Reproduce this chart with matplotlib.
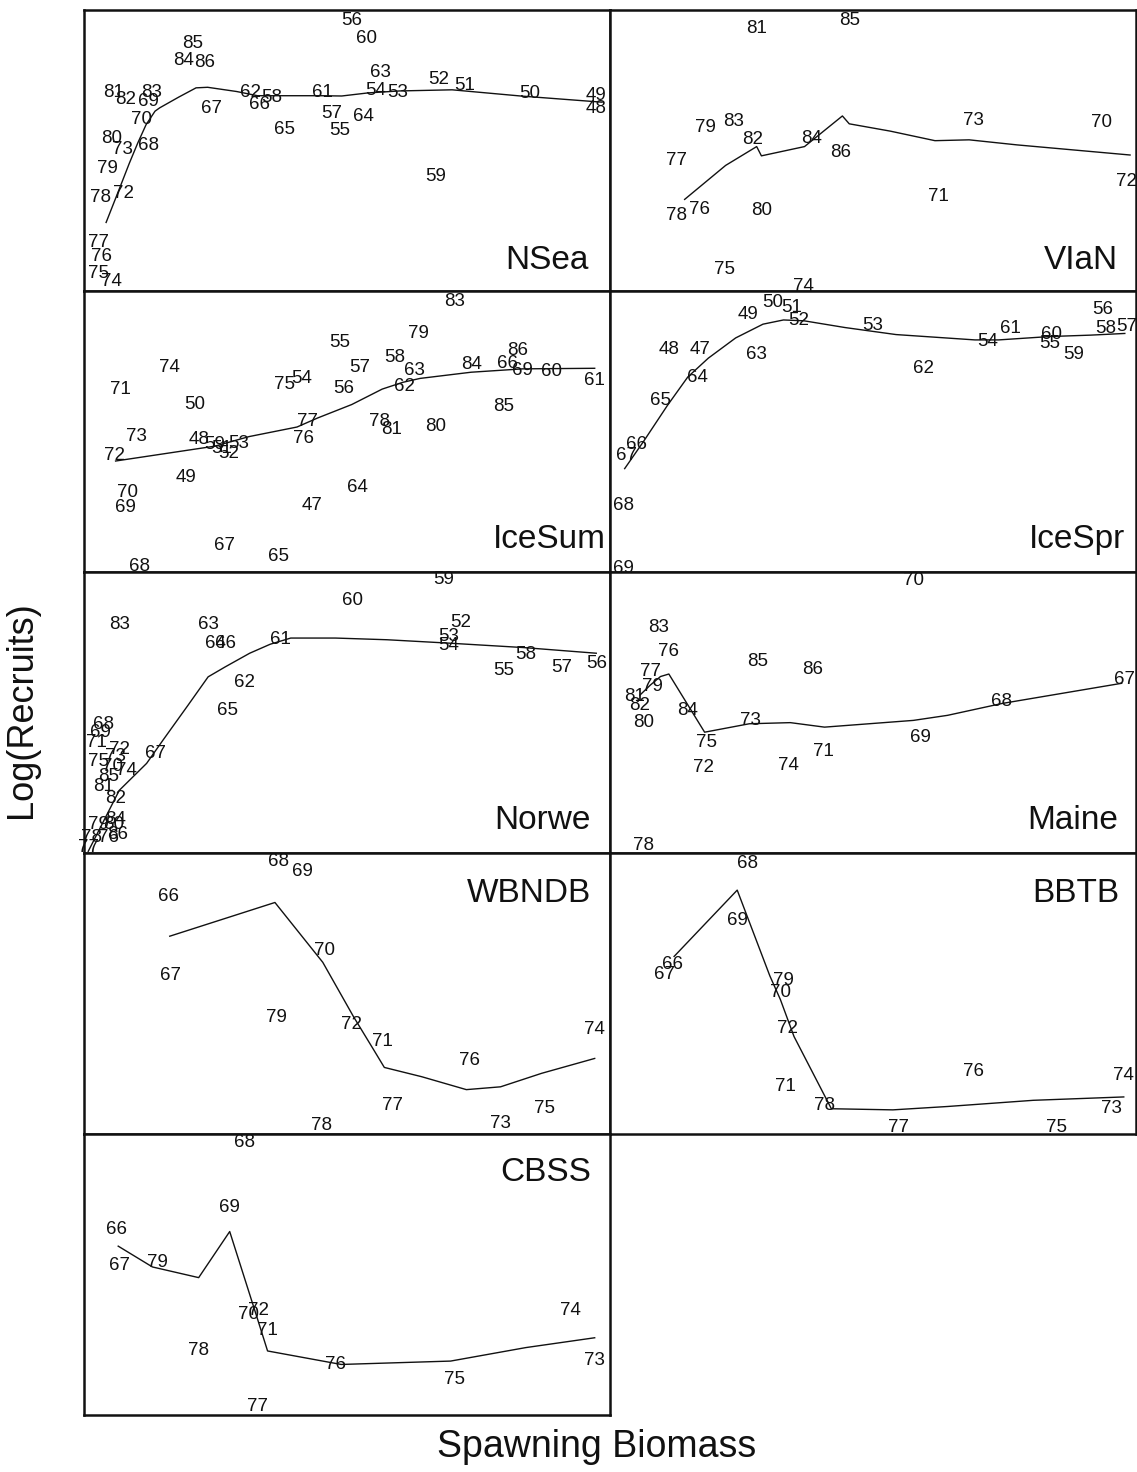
import matplotlib.pyplot as plt

plt.rcParams['font.family'] = ['Liberation Sans', 'DejaVu Sans']

# --- North Sea ---
nsea_year = [56, 60, 85, 84, 86, 81, 82, 83, 69, 70, 80, 73, 68, 79, 78, 72, 77, 76, 75, 74,
             67, 62, 58, 66, 65, 61, 57, 55, 64, 63, 54, 53, 52, 51, 50, 49, 48, 59]
nsea_ssb = [.509, .537, .206, .190, .229, .057, .079, .128, .122, .109, .053, .073, .122, .044,
            .031, .076, .027, .034, .027, .053, .242, .317, .356, .333, .382, .453, .470, .486,
            .532, .564, .555, .597, .675, .723, .847, .974, .974, .668]
nsea_rec = [.964, .900, .880, .820, .814, .706, .680, .706, .676, .610, .544, .502, .518, .436,
            .334, .346, .172, .124, .064, .034, .648, .708, .688, .664, .576, .706, .630, .570,
            .622, .778, .715, .706, .751, .732, .703, .696, .648, .406]
nsea_fit_ssb = [.042, .066, .086, .102, .118, .135, .144, .18, .213, .235, .29, .33, .45, .49,
                .54, .60, .70, .83, .985]
nsea_fit_rec = [.244, .358, .454, .526, .592, .640, .652, .69, .723, .725, .71, .695, .695, .694,
                .705, .712, .716, .694, .672]

# --- VIa North ---
vlan_year = [81, 85, 79, 83, 82, 77, 84, 86, 73, 70, 72, 71, 78, 76, 80, 75, 74]
vlan_ssb = [.279, .456, .181, .236, .272, .126, .383, .438, .692, .934, .982, .624, .126, .171,
            .289, .217, .367]
vlan_rec = [.933, .964, .583, .605, .538, .465, .544, .493, .608, .599, .389, .338, .267, .289,
            .287, .077, .016]
vlan_fit_ssb = [.142, .220, .279, .288, .370, .442, .455, .533, .618, .683, .774, .989]
vlan_fit_rec = [.326, .447, .514, .481, .514, .623, .595, .569, .535, .538, .520, .484]

# --- Iceland summer spawners ---
icesum_year = [83, 79, 55, 58, 57, 74, 71, 75, 54, 56, 63, 62, 84, 86, 66, 69, 60, 61, 85, 50,
               73, 72, 48, 59, 52, 51, 53, 77, 76, 78, 81, 80, 49, 70, 69, 64, 47, 67, 65, 68]
icesum_ssb = [.704, .636, .486, .590, .525, .163, .070, .382, .414, .493, .629, .610, .736, .824,
              .805, .834, .889, .971, .798, .210, .099, .057, .219, .249, .275, .262, .294, .424,
              .418, .561, .584, .668, .193, .083, .079, .519, .434, .268, .369, .105]
icesum_rec = [.961, .849, .817, .765, .729, .729, .651, .669, .687, .653, .717, .660, .737, .789,
              .741, .717, .713, .681, .590, .596, .482, .416, .472, .455, .422, .440, .458, .536,
              .476, .536, .508, .518, .337, .283, .229, .301, .235, .094, .054, .018]
icesum_fit_ssb = [.060, .249, .314, .405, .444, .509, .567, .606, .639, .736, .834, .971]
icesum_fit_rec = [.395, .448, .482, .516, .548, .596, .651, .675, .689, .711, .723, .725]

# --- Iceland spring spawners ---
icespr_year = [49, 50, 51, 52, 53, 48, 47, 63, 64, 65, 62, 54, 61, 60, 55, 59, 56, 58, 57, 66,
               67, 68, 69]
icespr_ssb = [.262, .310, .346, .359, .499, .112, .171, .278, .167, .096, .596, .719, .762, .840,
              .836, .882, .937, .943, .982, .051, .031, .025, .025]
icespr_rec = [.918, .960, .942, .894, .876, .791, .791, .773, .691, .610, .725, .819, .867, .845,
              .815, .773, .934, .867, .873, .453, .416, .236, .012]
icespr_fit_ssb = [.028, .064, .109, .148, .187, .239, .291, .330, .369, .447, .544, .694, .739,
                  .836, .914, .979]
icespr_fit_rec = [.368, .465, .592, .694, .761, .833, .882, .897, .894, .870, .845, .826, .826,
                  .838, .843, .849]

# --- Norwegian spring spawners ---
norwe_year = [59, 60, 83, 63, 64, 66, 61, 52, 53, 54, 55, 58, 57, 56, 62, 65, 67, 68, 69, 71,
              72, 73, 74, 75, 70, 85, 81, 82, 79, 80, 84, 76, 78, 86, 77]
norwe_ssb = [.683, .510, .067, .236, .249, .269, .373, .716, .693, .693, .798, .840, .909, .974,
             .305, .272, .135, .037, .031, .024, .067, .060, .080, .027, .054, .047, .037, .060,
             .027, .057, .060, .047, .014, .063, .008]
norwe_rec = [.972, .900, .813, .813, .747, .747, .759, .819, .771, .739, .651, .705, .659, .675,
             .608, .506, .355, .458, .428, .392, .367, .343, .295, .325, .307, .271, .235, .193,
             .102, .102, .120, .054, .054, .066, .018]
norwe_fit_ssb = [.008, .067, .119, .151, .197, .236, .269, .315, .354, .393, .478, .576, .693,
                 .837, .974]
norwe_fit_rec = [.006, .223, .319, .404, .524, .627, .663, .711, .743, .765, .765, .759, .747,
                 .731, .711]

# --- Gulf of Maine ---
maine_year = [70, 83, 76, 85, 86, 77, 79, 81, 82, 80, 84, 73, 75, 72, 74, 71, 69, 68, 67, 78]
maine_ssb = [.577, .093, .112, .281, .385, .077, .080, .047, .057, .064, .148, .268, .184, .177,
             .340, .405, .590, .745, .979, .064]
maine_rec = [.970, .802, .718, .682, .652, .645, .592, .556, .526, .466, .508, .472, .394, .304,
             .310, .360, .412, .538, .616, .028]
maine_fit_ssb = [.057, .077, .096, .112, .180, .265, .343, .408, .577, .642, .745, .973]
maine_fit_rec = [.562, .598, .628, .637, .430, .460, .464, .448, .472, .490, .532, .604]

# --- WBNDB ---
wbndb_year = [68, 69, 66, 67, 70, 79, 72, 71, 76, 74, 77, 75, 73, 78]
wbndb_ssb = [.369, .415, .161, .164, .457, .366, .509, .568, .733, .971, .587, .876, .792, .451]
wbndb_rec = [.970, .934, .844, .563, .653, .413, .389, .329, .263, .371, .102, .090, .036, .030]
wbndb_fit_ssb = [.163, .363, .454, .512, .551, .571, .642, .727, .792, .870, .971]
wbndb_fit_rec = [.704, .824, .611, .419, .299, .237, .204, .158, .168, .216, .269]

# --- BBTB ---
bbtb_year = [68, 69, 66, 67, 79, 70, 72, 71, 78, 76, 74, 73, 77, 75]
bbtb_ssb = [.262, .243, .119, .103, .330, .324, .337, .334, .408, .691, .977, .954, .548, .850]
bbtb_rec = [.964, .760, .605, .569, .545, .503, .377, .168, .102, .222, .210, .090, .024, .024]
bbtb_fit_ssb = [.122, .242, .304, .324, .350, .421, .538, .642, .805, .977]
bbtb_fit_rec = [.632, .868, .563, .479, .347, .090, .086, .098, .120, .132]

# --- CBSS ---
cbss_year = [68, 69, 66, 67, 79, 72, 70, 71, 78, 76, 75, 74, 73, 77]
cbss_ssb = [.306, .277, .062, .068, .140, .332, .313, .349, .218, .479, .704, .925, .971, .329]
cbss_rec = [.970, .737, .662, .531, .543, .371, .359, .302, .228, .180, .126, .371, .194, .030]
cbss_fit_ssb = [.065, .130, .218, .277, .329, .349, .489, .697, .840, .971]
cbss_fit_rec = [.601, .527, .489, .653, .347, .228, .180, .192, .240, .275]

stocks = [
    ('NSea', nsea_year, nsea_ssb, nsea_rec, nsea_fit_ssb, nsea_fit_rec, (0.960, 0.11)),
    ('VIaN', vlan_year, vlan_ssb, vlan_rec, vlan_fit_ssb, vlan_fit_rec, (0.966, 0.11)),
    ('IceSum', icesum_year, icesum_ssb, icesum_rec, icesum_fit_ssb, icesum_fit_rec, (0.992, 0.115)),
    ('IceSpr', icespr_year, icespr_ssb, icespr_rec, icespr_fit_ssb, icespr_fit_rec, (0.979, 0.115)),
    ('Norwe', norwe_year, norwe_ssb, norwe_rec, norwe_fit_ssb, norwe_fit_rec, (0.964, 0.117)),
    ('Maine', maine_year, maine_ssb, maine_rec, maine_fit_ssb, maine_fit_rec, (0.966, 0.117)),
    ('WBNDB', wbndb_year, wbndb_ssb, wbndb_rec, wbndb_fit_ssb, wbndb_fit_rec, (0.964, 0.855)),
    ('BBTB', bbtb_year, bbtb_ssb, bbtb_rec, bbtb_fit_ssb, bbtb_fit_rec, (0.968, 0.855)),
    ('CBSS', cbss_year, cbss_ssb, cbss_rec, cbss_fit_ssb, cbss_fit_rec, (0.964, 0.864)),
]

fig = plt.figure(figsize=(11.37, 14.72), dpi=100)
gs = fig.add_gridspec(5, 2, left=0.0739, right=0.999, top=0.9932, bottom=0.0387,
                      hspace=0, wspace=0)

ink = '#111111'
for i, (name, yr, ssb, rec, fx, fy, npos) in enumerate(stocks):
    ax = fig.add_subplot(gs[i // 2, i % 2])
    ax.set_xlim(0, 1)
    ax.set_ylim(0, 1)
    ax.set_xticks([])
    ax.set_yticks([])
    for s in ax.spines.values():
        s.set_linewidth(1.8)
        s.set_color(ink)
    ax.plot(fx, fy, color=ink, lw=1.0)
    for y, x, r in zip(yr, ssb, rec):
        ax.text(x, r, str(y), ha='center', va='center', fontsize=13.5, color=ink)
    ax.text(npos[0], npos[1], name, ha='right', va='center', fontsize=24, color=ink,
            transform=ax.transAxes)

fig.text(0.019, 0.518, 'Log(Recruits)', rotation=90, ha='center', va='center',
         fontsize=26, color=ink)
fig.text(0.525, 0.017, 'Spawning Biomass', ha='center', va='center', fontsize=27, color=ink)

fig.savefig('out.png', dpi=100, facecolor='white')
